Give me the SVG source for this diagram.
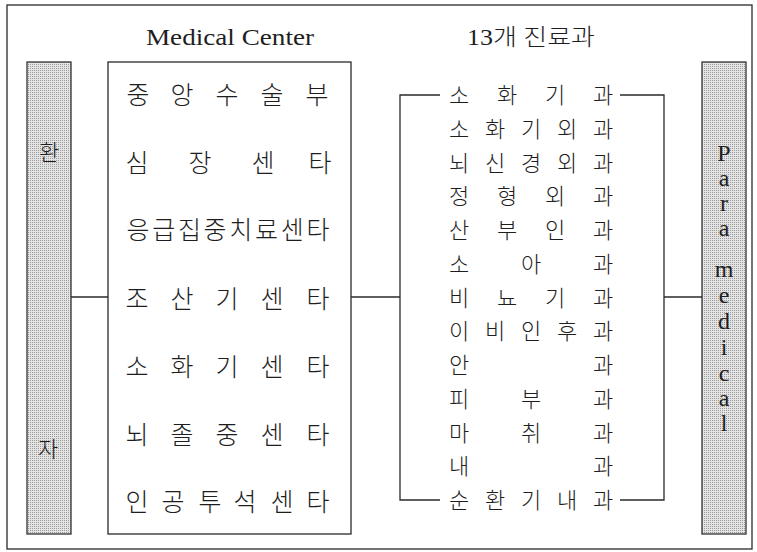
<svg xmlns="http://www.w3.org/2000/svg" width="757" height="552" viewBox="0 0 757 552">
<style>
.ln{stroke:#2a2a2a;stroke-width:1.3;fill:none}
.box{stroke:#2a2a2a;stroke-width:1.3;fill:#fff}
.bar{stroke:#333;stroke-width:1.3;fill:url(#dots)}
.ko{font-family:"Noto Sans CJK KR","Noto Sans",sans-serif;font-weight:300;fill:#1e1e1e;text-anchor:middle}
.k24{font-size:25px}
.k22{font-size:22px}
.lat{font-family:"Liberation Serif","DejaVu Serif",serif;fill:#1e1e1e;text-anchor:middle}
</style>
<defs>
<pattern id="dots" width="2" height="2" patternUnits="userSpaceOnUse">
<rect width="2" height="2" fill="#e4e4e4"/>
<rect width="1" height="1" fill="#9a9a9a"/>
</pattern>
</defs>
<rect x="7" y="5" width="745" height="544" class="ln" stroke-width="1.6"/>

<g id="titles">
<text class="lat" x="230" y="45" font-size="24" textLength="168" lengthAdjust="spacingAndGlyphs">Medical Center</text>
<text x="531" y="45" font-size="23" text-anchor="middle" fill="#1e1e1e" font-family="Liberation Serif,'Noto Sans CJK KR',serif" font-weight="300" textLength="128" lengthAdjust="spacingAndGlyphs">13개 진료과</text>
</g>

<g id="patient">
<rect x="27" y="62" width="44" height="472" class="bar"/>
<text class="ko" x="49" y="160" font-size="22">환</text>
<text class="ko" x="48" y="457" font-size="22">자</text>
</g>

<g id="medical-center">
<rect x="108" y="62" width="243" height="472" class="box"/>
<text class="ko k24" x="138 182 227 272 317" y="104">중앙수술부</text>
<text class="ko k24" x="137 200 263 320" y="172">심장센타</text>
<text class="ko k24" x="138 163.7 189.4 215.1 240.8 266.5 292.2 318" y="239">응급집중치료센타</text>
<text class="ko k24" x="137 182 227 272 318" y="308">조산기센타</text>
<text class="ko k24" x="137 182 227 272 318" y="376">소화기센타</text>
<text class="ko k24" x="137 182 227 272 318" y="444">뇌졸중센타</text>
<text class="ko k24" x="137 173 210 245 282 318" y="511">인공투석센타</text>
</g>

<g id="departments">
<text class="ko k22" x="459 507 555 603" y="103">소화기과</text>
<text class="ko k22" x="459 495 531 567 603" y="136.8">소화기외과</text>
<text class="ko k22" x="459 495 531 567 603" y="170.5">뇌신경외과</text>
<text class="ko k22" x="459 507 555 603" y="204.3">정형외과</text>
<text class="ko k22" x="459 507 555 603" y="238">산부인과</text>
<text class="ko k22" x="459 531 603" y="271.8">소아과</text>
<text class="ko k22" x="459 507 555 603" y="305.5">비뇨기과</text>
<text class="ko k22" x="459 495 531 567 603" y="339.3">이비인후과</text>
<text class="ko k22" x="459 603" y="373">안과</text>
<text class="ko k22" x="459 531 603" y="406.8">피부과</text>
<text class="ko k22" x="459 531 603" y="440.5">마취과</text>
<text class="ko k22" x="459 603" y="474.3">내과</text>
<text class="ko k22" x="459 495 531 567 603" y="508">순환기내과</text>
</g>

<g id="paramedical">
<rect x="702" y="62" width="44" height="472" class="bar"/>
<g class="lat" font-size="24">
<text x="724" y="161">P</text>
<text x="724" y="186">a</text>
<text x="724" y="211">r</text>
<text x="724" y="236">a</text>
<text x="724" y="277">m</text>
<text x="724" y="303">e</text>
<text x="724" y="329">d</text>
<text x="724" y="355">i</text>
<text x="724" y="381">c</text>
<text x="724" y="406">a</text>
<text x="724" y="431">l</text>
</g>
</g>

<g id="connectors">
<line x1="71" y1="297" x2="108" y2="297" class="ln"/>
<line x1="351" y1="297" x2="400" y2="297" class="ln"/>
<path d="M440 95 H400 V500 H440" class="ln"/>
<path d="M620 95 H664 V500 H620" class="ln"/>
<line x1="664" y1="297" x2="702" y2="297" class="ln"/>
</g>
</svg>
